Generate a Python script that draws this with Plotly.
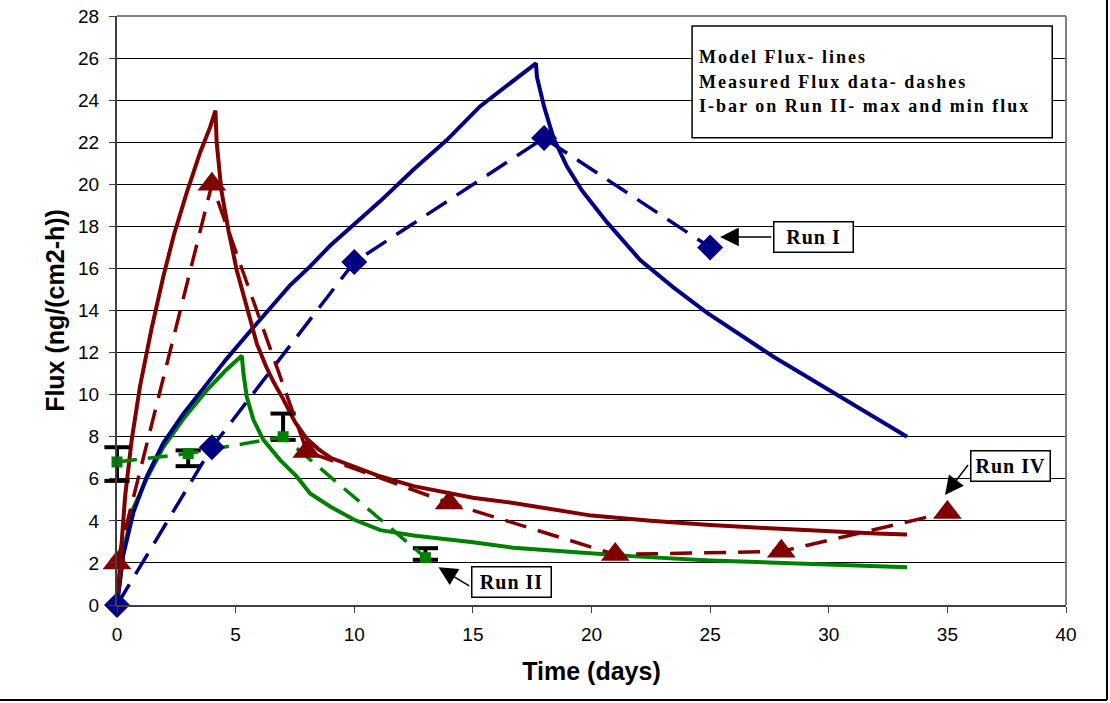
import plotly.graph_objects as go

# ---------------- data ----------------
# Measured flux (dashed lines with markers)
run1_t = [0, 4, 10, 18, 25]
run1_f = [0, 7.5, 16.3, 22.2, 17.0]

run4_t = [0, 4, 8, 14, 21, 28, 35]
run4_f = [2.0, 20.0, 7.3, 4.85, 2.4, 2.55, 4.4]

run2_t = [0, 3, 7, 13]
run2_f = [6.8, 7.2, 8.0, 2.25]
run2_max = [7.5, 7.35, 9.1, 2.7]
run2_min = [5.9, 6.6, 7.85, 2.15]

# Model flux (solid lines)
mod1_t = [0, 0.1, 0.27, 0.69, 1.25, 1.95, 2.8, 3.78, 4.62, 5.6, 6.5, 7.3, 8.14, 9.0, 10,
          11.1, 12.5, 13.9, 15.3, 16.7, 17.66, 17.7, 18.0, 18.4, 18.96, 19.6, 20.65, 22.05,
          23.45, 24.86, 26.27, 27.67, 29.08, 30.48, 31.88, 33.3]
mod1_f = [0, 1.0, 2.4, 4.4, 6.1, 7.7, 9.1, 10.5, 11.7, 13.0, 14.2, 15.2, 16.1, 17.1, 18.1,
          19.2, 20.7, 22.1, 23.7, 24.95, 25.75, 25.1, 23.7, 22.2, 20.85, 19.7, 18.2, 16.4,
          15.1, 13.9, 12.85, 11.8, 10.85, 9.9, 9.0, 8.0]

mod4_t = [0, 0.06, 0.2, 0.34, 0.62, 0.97, 1.45, 1.95, 2.4, 2.94, 3.5, 3.92, 4.15, 4.2, 4.4,
          4.7, 5.05, 5.5, 5.9, 6.3, 6.6, 7.0, 7.5, 8.0, 8.5, 9.0, 10, 11, 12.5, 14, 15, 16.7,
          18, 20, 22.5, 25, 27.5, 30, 32, 33.3]
mod4_f = [0, 0.9, 2.9, 5.15, 7.85, 10.4, 13.1, 15.6, 17.6, 19.6, 21.5, 22.7, 23.5, 22.0, 19.7,
          17.8, 15.9, 14.0, 12.4, 11.3, 10.6, 9.8, 8.7, 7.9, 7.4, 7.0, 6.6, 6.15, 5.65, 5.3, 5.1,
          4.85, 4.6, 4.25, 4.0, 3.8, 3.65, 3.5, 3.4, 3.35]

mod2_t = [0, 0.06, 0.27, 0.69, 1.25, 1.95, 2.8, 3.78, 4.62, 5.26, 5.33, 5.47, 5.75, 6.17,
          6.87, 7.58, 8.14, 9.0, 10, 11.1, 12.5, 15, 16.7, 19.5, 22, 25, 30, 33.3]
mod2_f = [0, 0.6, 2.6, 4.6, 6.0, 7.5, 8.85, 10.2, 11.2, 11.85, 11.0, 9.9, 8.8, 7.85,
          6.9, 6.1, 5.3, 4.67, 4.05, 3.56, 3.3, 2.98, 2.72, 2.5, 2.3, 2.12, 1.9, 1.8]

x_ticks = [0, 5, 10, 15, 20, 25, 30, 35, 40]
y_ticks = list(range(0, 29, 2))

BLUE = "#000080"
RED = "#800000"
GREEN = "#008000"

fig = go.Figure()

# model lines
for t, f, c in [(mod2_t, mod2_f, GREEN), (mod1_t, mod1_f, BLUE), (mod4_t, mod4_f, RED)]:
    fig.add_trace(go.Scatter(x=t, y=f, mode="lines", line=dict(color=c, width=4),
                             showlegend=False, hoverinfo="skip"))

# Run II max/min I-bars: stems on the data axes, caps as unclipped markers
for t, lo, hi in zip(run2_t, run2_min, run2_max):
    fig.add_shape(type="line", xref="x", yref="y", x0=t, x1=t, y0=lo, y1=hi,
                  line=dict(color="black", width=4), layer="between")
fig.add_trace(go.Scatter(
    x=run2_t + run2_t, y=run2_max + run2_min, mode="markers",
    marker=dict(symbol="line-ew", size=18, line=dict(color="black", width=4)),
    cliponaxis=False, showlegend=False, hoverinfo="skip"))

# measured data
fig.add_trace(go.Scatter(
    x=run2_t, y=run2_f, mode="lines+markers",
    line=dict(color=GREEN, width=3.5, dash="20px,11px"),
    marker=dict(symbol="square", size=11, color=GREEN),
    cliponaxis=False, showlegend=False))
fig.add_trace(go.Scatter(
    x=run1_t, y=run1_f, mode="lines+markers",
    line=dict(color=BLUE, width=3.5, dash="24px,12px"),
    marker=dict(symbol="diamond", size=20, color=BLUE),
    cliponaxis=False, showlegend=False))
fig.add_trace(go.Scatter(
    x=run4_t, y=run4_f, mode="lines+markers",
    line=dict(color=RED, width=3.5, dash="22px,12px"),
    marker=dict(symbol="triangle-up", size=25, color=RED),
    cliponaxis=False, showlegend=False))

SERIF = "Liberation Serif, Times New Roman, serif"

# info box
fig.add_shape(type="rect", xref="x", yref="y", x0=24.24, x1=39.42, y0=22.21, y1=27.52,
              line=dict(color="black", width=1.5), fillcolor="white", layer="above")
for txt, yy in [("Model Flux- lines", 26.06),
                ("Measured Flux data- dashes", 24.87),
                ("I-bar on Run II- max and min flux", 23.71)]:
    fig.add_annotation(x=24.45, y=yy, xref="x", yref="y", xanchor="left", yanchor="middle",
                       text='<b><span style="letter-spacing:2px">' + txt + '</span></b>',
                       showarrow=False, font=dict(family=SERIF, size=18, color="black"))

# run labels
for txt, cx, cy in [("Run I", 29.34, 17.5), ("Run II", 16.62, 1.07), ("Run IV", 37.66, 6.62)]:
    fig.add_annotation(x=cx, y=cy, xref="x", yref="y", xanchor="center", yanchor="middle",
                       text='<b><span style="letter-spacing:1px">' + txt + '</span></b>',
                       showarrow=False, font=dict(family=SERIF, size=20, color="black"),
                       bgcolor="white", bordercolor="black", borderwidth=1.5, borderpad=1,
                       width=76, height=27)

# arrows
for tx, ty, axx, ayy in [(25.42, 17.5, 27.64, 17.5), (13.55, 1.79, 14.91, 0.87),
                         (34.9, 5.23, 35.92, 6.73)]:
    fig.add_annotation(x=tx, y=ty, ax=axx, ay=ayy, xref="x", yref="y", axref="x", ayref="y",
                       text="", showarrow=True, arrowhead=2, arrowsize=2.5, arrowwidth=1.5,
                       arrowcolor="black", standoff=0)

# plot-area frame (top / right) and outer border
fig.add_shape(type="line", xref="paper", yref="paper", x0=0, x1=1, y0=1, y1=1,
              line=dict(color="#808080", width=2), layer="above")
fig.add_shape(type="line", xref="paper", yref="paper", x0=1, x1=1, y0=0, y1=1,
              line=dict(color="#808080", width=2), layer="above")
fig.add_shape(type="line", xref="paper", yref="paper", x0=-0.125, x1=1.0432, y0=-0.1613, y1=-0.1613,
              line=dict(color="black", width=2))
fig.add_shape(type="line", xref="paper", yref="paper", x0=1.0432, x1=1.0432, y0=-0.1613, y1=1.027,
              line=dict(color="black", width=2))

fig.update_layout(
    width=1110, height=703,
    margin=dict(l=117, r=44, t=16, b=98, autoexpand=False),
    paper_bgcolor="white", plot_bgcolor="white",
    font=dict(family="Liberation Sans, Arial, sans-serif", color="black"),
    xaxis=dict(range=[0, 40], tickvals=x_ticks, ticks="outside", ticklen=6, tickwidth=1,
               tickcolor="#404040", showgrid=False, zeroline=False, showline=True,
               linecolor="#404040", linewidth=2, tickfont=dict(size=19), automargin=False,
               ticklabelstandoff=5, ticklabeloverflow="allow",
               title=dict(text="<b>Time (days)</b>", font=dict(size=25), standoff=19)),
    yaxis=dict(range=[0, 28], tickvals=y_ticks, ticks="outside", ticklen=6, tickwidth=1,
               tickcolor="#404040", showgrid=True, gridcolor="black", gridwidth=1,
               zeroline=False, showline=True, linecolor="#404040", linewidth=2,
               tickfont=dict(size=19), automargin=False, ticklabelstandoff=6,
               ticklabeloverflow="allow",
               title=dict(text="<b>Flux (ng/(cm2-h))</b>", font=dict(size=25), standoff=6)),
)

fig.write_html("out.html", config={"displayModeBar": False},
               post_script="document.body.style.margin='0';")
